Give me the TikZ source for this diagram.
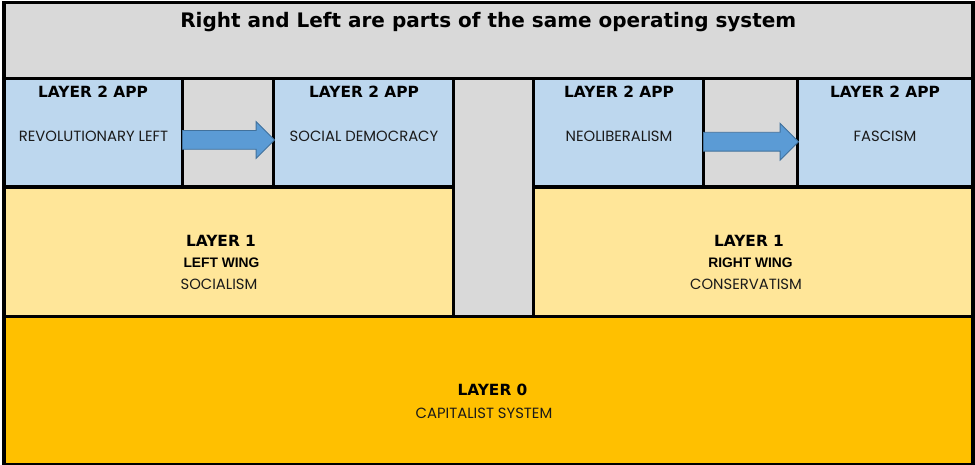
\documentclass[tikz,border=0pt]{standalone}
\usepackage{fontspec}
\setmainfont{Liberation Sans}
\newfontfamily\lightfont{Poppins}
\newfontfamily\heavyfont{DejaVu Sans}
\usetikzlibrary{shapes.arrows}
\definecolor{titlegray}{HTML}{D9D9D9}
\definecolor{appblue}{HTML}{BDD7EE}
\definecolor{layeryellow}{HTML}{FFE699}
\definecolor{layerorange}{HTML}{FFC000}
\definecolor{arrowfill}{HTML}{5B9BD5}
\definecolor{arrowline}{HTML}{41719C}
\definecolor{ink}{HTML}{1A1A1A}
\tikzset{
  cell/.style={draw=black, line width=3.4pt, inner sep=0pt, outer sep=0pt, anchor=north west},
  boldtxt/.style={font=\heavyfont\fontsize{15.4}{17}\selectfont\bfseries, text=black, inner sep=0pt},
  wingtxt/.style={font=\fontsize{13.8}{15}\selectfont\bfseries, text=black, inner sep=0pt},
  lighttxt/.style={font=\lightfont\fontsize{14.8}{16}\selectfont, text=ink, inner sep=0pt},
  blockarrow/.style={single arrow, draw=arrowline, fill=arrowfill, line width=0.8pt, anchor=tail,
    inner xsep=0pt, inner ysep=9pt, single arrow head extend=9pt, single arrow tip angle=90, outer sep=0pt}
}
\begin{document}
\begin{tikzpicture}[x=1pt, y=-1pt]
\useasboundingbox[fill=white] (0,0) rectangle (975,465);
% layer 0
\node[cell, fill=layerorange, minimum width=969pt, minimum height=148.3pt] (l0) at (4,316.7) {};
% layer 1
\node[cell, fill=layeryellow, minimum width=449.3pt, minimum height=129.7pt] (l1left) at (4,187) {};
\node[cell, fill=layeryellow, minimum width=439.7pt, minimum height=129.7pt] (l1right) at (533.3,187) {};
% centre column
\node[cell, fill=titlegray, minimum width=80pt, minimum height=238.2pt] (mid) at (453.3,78.5) {};
% layer 2 apps and gaps
\node[cell, fill=appblue, minimum width=178.5pt, minimum height=108.5pt] (app1) at (4,78.5) {};
\node[cell, fill=titlegray, minimum width=91pt, minimum height=108.5pt] (gap1) at (182.5,78.5) {};
\node[cell, fill=appblue, minimum width=179.8pt, minimum height=108.5pt] (app2) at (273.5,78.5) {};
\node[cell, fill=appblue, minimum width=170.2pt, minimum height=108.5pt] (app3) at (533.3,78.5) {};
\node[cell, fill=titlegray, minimum width=94pt, minimum height=108.5pt] (gap2) at (703.5,78.5) {};
\node[cell, fill=appblue, minimum width=175.5pt, minimum height=108.5pt] (app4) at (797.5,78.5) {};
% title
\node[cell, fill=titlegray, minimum width=969pt, minimum height=76pt] (title) at (4,2.5) {};
\node[font=\heavyfont\fontsize{20}{22}\selectfont\bfseries, inner sep=0pt] (titletxt) at (488.3,22) {Right and Left are parts of the same operating system};
% arrows
\node[blockarrow, minimum height=92pt] (arr1) at ([yshift=-7.2pt]app1.east) {};
\node[blockarrow, minimum height=95pt] (arr2) at ([yshift=-9pt]app3.east) {};
% app texts
\node[boldtxt] (h1) at (93,91.5) {LAYER 2 APP};
\node[lighttxt] (t1) at (93.5,136) {REVOLUTIONARY LEFT};
\node[boldtxt] (h2) at (364,91.5) {LAYER 2 APP};
\node[lighttxt] (t2) at (364,136) {SOCIAL DEMOCRACY};
\node[boldtxt] (h3) at (619,91.5) {LAYER 2 APP};
\node[lighttxt] (t3) at (619,136) {NEOLIBERALISM};
\node[boldtxt] (h4) at (885,91.5) {LAYER 2 APP};
\node[lighttxt] (t4) at (885,136) {FASCISM};
% layer 1 texts
\node[boldtxt] (l1h) at (221,240.5) {LAYER 1};
\node[wingtxt] (l1w) at (221.5,263) {LEFT WING};
\node[lighttxt] (l1t) at (219,284.5) {SOCIALISM};
\node[boldtxt] (r1h) at (749,240.5) {LAYER 1};
\node[wingtxt] (r1w) at (750.5,263) {RIGHT WING};
\node[lighttxt] (r1t) at (746,284.5) {CONSERVATISM};
% layer 0 texts
\node[boldtxt] (l0h) at (492.5,389.5) {LAYER 0};
\node[lighttxt] (l0t) at (484,413) {CAPITALIST SYSTEM};
\end{tikzpicture}
\end{document}
